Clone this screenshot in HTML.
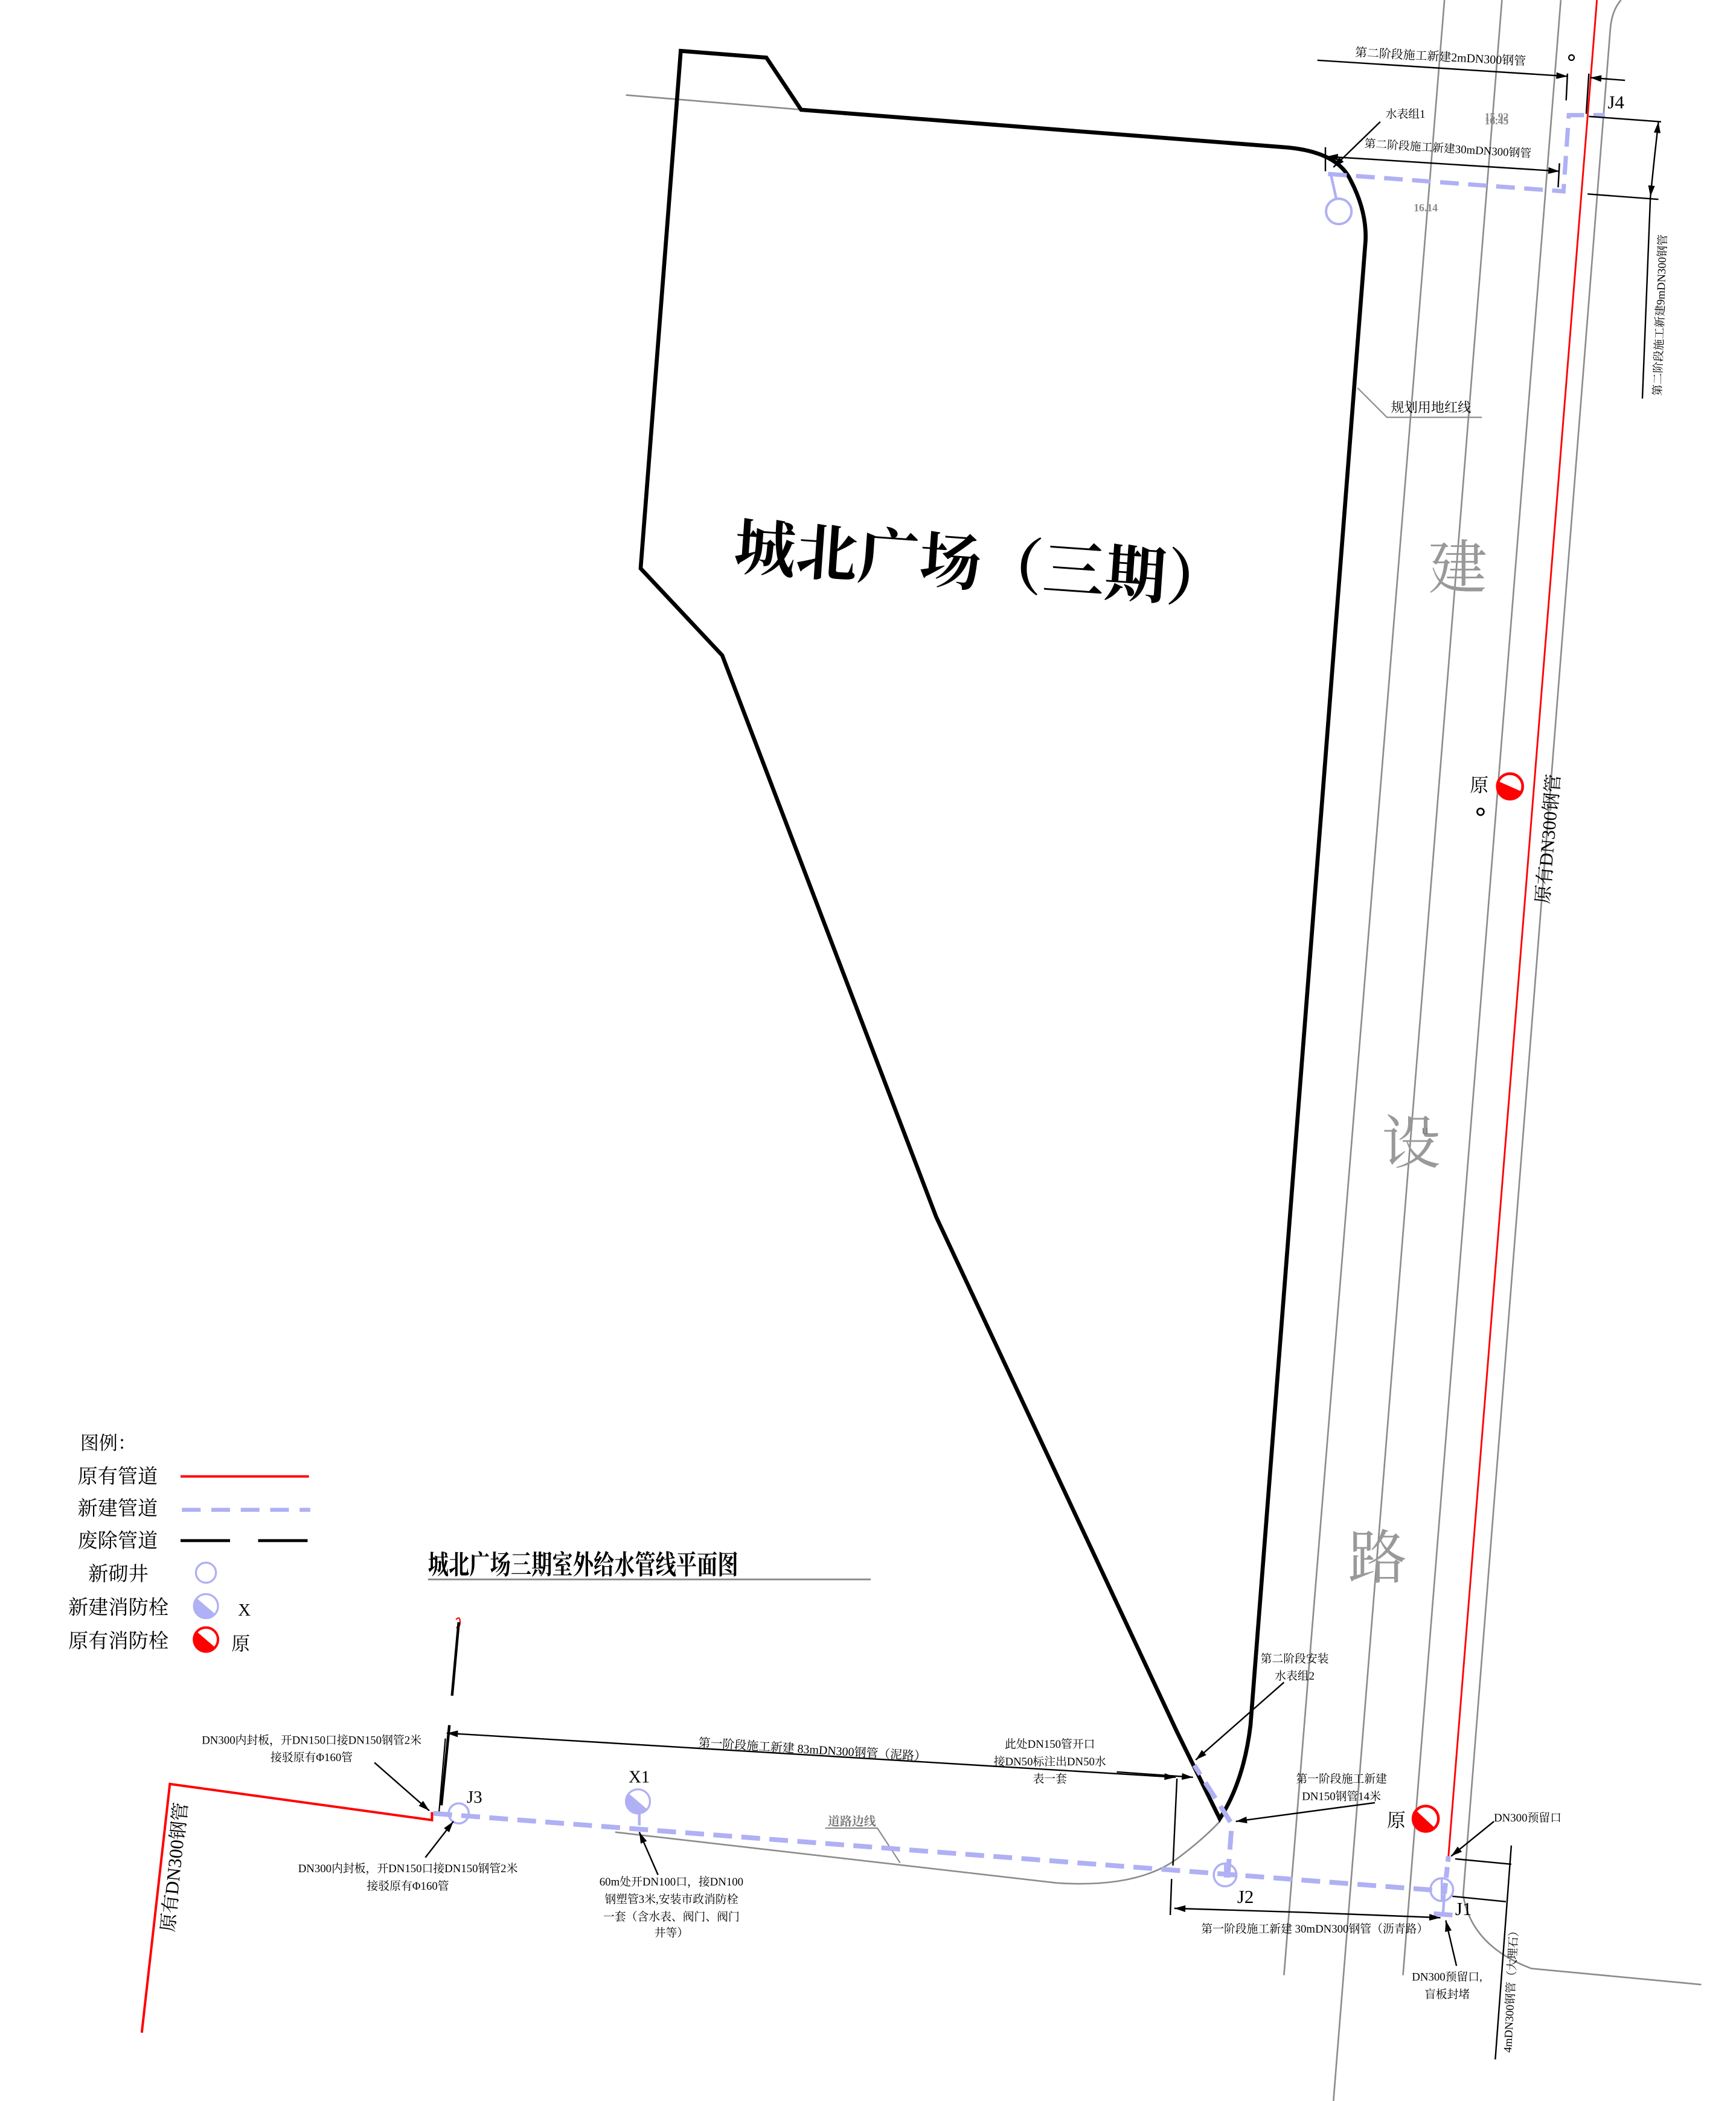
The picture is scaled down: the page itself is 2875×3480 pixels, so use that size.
<!DOCTYPE html>
<html><head><meta charset="utf-8"><style>
html,body{margin:0;padding:0;background:#fff;}
svg{display:block;}
text{font-family:"Liberation Serif","Noto Serif CJK SC",serif;fill:#000;}
.s{font-size:9px;}
.g{stroke:#8c8c8c;stroke-width:1.2;fill:none;}
.k{stroke:#000;stroke-width:1.1;fill:none;}
.b{stroke:#b0b0f4;stroke-width:3.6;fill:none;stroke-dasharray:14 7;}
</style></head><body>
<svg width="2875" height="3480" viewBox="0 0 1298 1571" xmlns="http://www.w3.org/2000/svg">
<defs>
<marker id="a" viewBox="0 0 10 6" refX="10" refY="3" markerWidth="10" markerHeight="5" markerUnits="userSpaceOnUse" orient="auto"><path d="M0,0 L10,3 L0,6 Z" fill="#000"/></marker>
</defs>
<rect width="1298" height="1571" fill="#fff"/>

<!-- road gray lines -->
<line class="g" x1="1080" y1="0" x2="960" y2="1477"/>
<line class="g" x1="1123" y1="0" x2="997" y2="1571"/>
<line class="g" x1="1167" y1="0" x2="1049" y2="1477"/>
<path class="g" d="M1212,0 Q1205,8 1204,22 L1094,1417 Q1100,1455 1145,1472 L1272,1484"/>
<line class="g" x1="468" y1="71" x2="600" y2="82"/>
<path class="g" d="M460,1370 L790,1408 Q850,1412 880,1390 Q900,1375 912,1362"/>
<polyline class="g" points="617,1367 656,1367 673,1393" style="stroke-width:1"/>
<polyline class="g" points="1015,290 1037,312 1108,312" style="stroke-width:1"/>

<!-- red existing pipe -->
<line x1="1194" y1="0" x2="1083" y2="1388" stroke="#f00" stroke-width="1.3"/>
<polyline points="106,1520 127,1334 323,1361 323,1355" stroke="#f00" stroke-width="1.8" fill="none"/>

<!-- plot boundary -->
<path d="M509,38 L573,43 L599,82 L960,110 Q1000,113 1010,135 Q1022,158 1021,180 L935,1290 Q930,1332 912,1360 L880,1295 L700,910 L540,490 L479,425 Z" stroke="#000" stroke-width="3" fill="none" stroke-linejoin="miter"/>

<!-- big labels -->
<text x="548" y="425" font-size="46" font-weight="bold" transform="rotate(4 548 425)" textLength="370">城北广场（三期）</text>
<text x="1068" y="440" font-size="44" fill="#999" style="fill:#999">建</text>
<text x="1033" y="870" font-size="44" style="fill:#999">设</text>
<text x="1063" y="848" font-size="10" style="fill:#777">u</text>
<text x="1008" y="1180" font-size="44" style="fill:#999">路</text>

<!-- top-right -->
<line class="k" x1="985" y1="45" x2="1172" y2="57" marker-end="url(#a)"/>
<line class="k" x1="1215" y1="60" x2="1189" y2="58" marker-end="url(#a)"/>
<line class="k" x1="1172" y1="55" x2="1171" y2="75"/>
<line class="k" x1="1188" y1="55" x2="1186" y2="85"/>
<text class="s" x="1013" y="42" transform="rotate(3 1013 42)" font-size="8.5">第二阶段施工新建2mDN300钢管</text>
<circle cx="1175" cy="43" r="2" fill="none" stroke="#000" stroke-width="1"/>
<text x="1202" y="81" font-size="14">J4</text>
<text x="1036" y="88" font-size="8.5">水表组1</text>
<line class="k" x1="1032" y1="91" x2="997" y2="125" marker-end="url(#a)"/>
<text x="1110" y="90" font-size="8" font-weight="bold" style="fill:#888">15.92</text>
<text x="1110" y="93" font-size="8" font-weight="bold" style="fill:#888">16.45</text>
<text x="1057" y="158" font-size="8" font-weight="bold" style="fill:#888">16.14</text>
<text x="1020" y="110" font-size="8.5" transform="rotate(3.5 1020 110)">第二阶段施工新建30mDN300钢管</text>
<line class="k" x1="1025" y1="119" x2="992" y2="117" marker-end="url(#a)"/>
<line class="k" x1="1025" y1="119" x2="1166" y2="128" marker-end="url(#a)"/>
<line class="k" x1="991" y1="110" x2="991" y2="128"/>
<line class="k" x1="1166" y1="122" x2="1165" y2="140"/>
<path class="b" d="M993,130 L1169,143 L1173,86 L1200,86" style="stroke-width:3.2"/>
<line x1="995" y1="130" x2="999" y2="148" stroke="#b0b0f4" stroke-width="2"/>
<circle cx="1001" cy="158" r="9.5" fill="#fff" stroke="#b0b0f4" stroke-width="1.8"/>
<line class="k" x1="1188" y1="87" x2="1242" y2="91"/>
<line class="k" x1="1187" y1="145" x2="1240" y2="149"/>
<line class="k" x1="1237" y1="118" x2="1240" y2="91" marker-end="url(#a)"/>
<line class="k" x1="1237" y1="118" x2="1234" y2="147" marker-end="url(#a)"/>
<line class="k" x1="1234" y1="147" x2="1228" y2="298"/>
<text x="1242" y="296" font-size="8.5" transform="rotate(-88 1242 296)">第二阶段施工新建9mDN300钢管</text>
<text x="1040" y="308" font-size="10">规划用地红线</text>

<!-- middle hydrant -->
<circle cx="1129" cy="588" r="9.5" fill="#fff" stroke="#f00" stroke-width="2"/>
<path d="M1120,584 A9.5,9.5 0 0 0 1138,592 Z" fill="#f00"/>
<text x="1099" y="592" font-size="14">原</text>
<circle cx="1107" cy="607" r="2.5" fill="none" stroke="#000" stroke-width="1.2"/>
<text x="1158" y="676" font-size="14" transform="rotate(-85 1158 676)">原有DN300钢管</text>

<!-- legend -->
<text x="60" y="1084" font-size="14">图例：</text>
<text x="58" y="1109" font-size="15">原有管道</text>
<line x1="135" y1="1104" x2="231" y2="1104" stroke="#f00" stroke-width="1.8"/>
<text x="58" y="1133" font-size="15">新建管道</text>
<line class="b" x1="136" y1="1129" x2="232" y2="1129" style="stroke-dasharray:14 8;stroke-width:3"/>
<text x="58" y="1157" font-size="15">废除管道</text>
<line x1="135" y1="1152" x2="172" y2="1152" stroke="#000" stroke-width="2.2"/>
<line x1="193" y1="1152" x2="230" y2="1152" stroke="#000" stroke-width="2.2"/>
<text x="66" y="1182" font-size="15">新砌井</text>
<circle cx="154" cy="1176" r="7.5" fill="none" stroke="#b0b0f4" stroke-width="1.5"/>
<text x="51" y="1207" font-size="15">新建消防栓</text>
<circle cx="154" cy="1201" r="9" fill="#fff" stroke="#b0b0f4" stroke-width="1.5"/>
<path d="M147,1195 A9,9 0 0 0 161,1207 Z" fill="#b0b0f4"/>
<text x="178" y="1208" font-size="13">X</text>
<text x="51" y="1232" font-size="15">原有消防栓</text>
<circle cx="154" cy="1226" r="9" fill="#fff" stroke="#f00" stroke-width="1.8"/>
<path d="M147,1220 A9,9 0 0 0 161,1232 Z" fill="#f00"/>
<text x="173" y="1234" font-size="14">原</text>

<!-- title -->
<text x="320" y="1177" font-size="20" font-weight="bold" textLength="232" lengthAdjust="spacingAndGlyphs">城北广场三期室外给水管线平面图</text>
<line x1="320" y1="1181" x2="651" y2="1181" stroke="#888" stroke-width="1.3"/>

<!-- abandoned pipe -->
<path d="M341,1211 q3,-3 3,2 q0,4 -3,4" stroke="#f00" stroke-width="1" fill="none"/>
<line x1="343" y1="1213" x2="338" y2="1268" stroke="#000" stroke-width="2"/>
<line x1="336" y1="1290" x2="330" y2="1350" stroke="#000" stroke-width="2"/>
<line x1="333" y1="1300" x2="328" y2="1358" stroke="#000" stroke-width="1"/>

<!-- new main pipe -->
<path class="b" d="M324,1356 L1080,1414"/>
<path class="b" d="M918,1404 L921,1364 L893,1320"/>
<path class="b" d="M1080,1416 L1083,1388" style="stroke-dasharray:8 4"/>
<line x1="1080" y1="1416" x2="1079" y2="1430" stroke="#b0b0f4" stroke-width="2"/>
<line x1="1072" y1="1431" x2="1086" y2="1432" stroke="#b0b0f4" stroke-width="3.5"/>
<circle cx="343" cy="1356" r="7.5" fill="none" stroke="#b0b0f4" stroke-width="1.6"/>
<circle cx="916" cy="1402" r="8.5" fill="none" stroke="#b0b0f4" stroke-width="1.6"/>
<circle cx="1078" cy="1413" r="8.5" fill="none" stroke="#b0b0f4" stroke-width="1.6"/>
<line x1="1078" y1="1405" x2="1078" y2="1422" stroke="#b0b0f4" stroke-width="1.6"/>
<line x1="916" y1="1394" x2="916" y2="1404" stroke="#b0b0f4" stroke-width="1.6"/>
<line x1="478" y1="1354" x2="478" y2="1365" stroke="#b0b0f4" stroke-width="2"/>
<circle cx="477" cy="1347" r="9" fill="#fff" stroke="#b0b0f4" stroke-width="1.5"/>
<path d="M470,1341 A9,9 0 0 0 484,1353 Z" fill="#b0b0f4"/>
<text x="470" y="1333" font-size="13">X1</text>
<text x="349" y="1348" font-size="13">J3</text>
<text x="925" y="1423" font-size="14">J2</text>
<text x="1088" y="1432" font-size="14">J1</text>

<!-- red hydrant bottom -->
<circle cx="1066" cy="1360" r="9.5" fill="#fff" stroke="#f00" stroke-width="2"/>
<path d="M1059,1354 A9.5,9.5 0 0 0 1073,1367 Z" fill="#f00"/>
<text x="1037" y="1366" font-size="14">原</text>

<!-- bottom dimensions / annotations -->
<line class="k" x1="600" y1="1312" x2="334" y2="1296" marker-end="url(#a)"/>
<line class="k" x1="600" y1="1312" x2="879" y2="1329" marker-end="url(#a)"/>
<text x="522" y="1306" font-size="9" transform="rotate(3.5 522 1306)">第一阶段施工新建 83mDN300钢管（泥路）</text>
<line class="k" x1="880" y1="1330" x2="877" y2="1395"/>
<line class="k" x1="876" y1="1405" x2="875" y2="1432"/>
<text x="785" y="1307" font-size="8.5" text-anchor="middle">此处DN150管开口</text>
<text x="785" y="1320" font-size="8.5" text-anchor="middle">接DN50标注出DN50水</text>
<text x="785" y="1333" font-size="8.5" text-anchor="middle">表一套</text>
<line class="k" x1="835" y1="1325" x2="892" y2="1329" marker-end="url(#a)"/>
<text x="968" y="1243" font-size="8.5" text-anchor="middle">第二阶段安装</text>
<text x="968" y="1256" font-size="8.5" text-anchor="middle">水表组2</text>
<line class="k" x1="960" y1="1258" x2="894" y2="1316" marker-end="url(#a)"/>
<text x="1003" y="1333" font-size="8.5" text-anchor="middle">第一阶段施工新建</text>
<text x="1003" y="1346" font-size="8.5" text-anchor="middle">DN150钢管14米</text>
<line class="k" x1="1028" y1="1348" x2="924" y2="1362" marker-end="url(#a)"/>
<text x="1117" y="1362" font-size="8.5">DN300预留口</text>
<line class="k" x1="1117" y1="1362" x2="1085" y2="1388" marker-end="url(#a)"/>
<line class="k" x1="1088" y1="1390" x2="1130" y2="1394"/>
<line class="k" x1="1086" y1="1418" x2="1126" y2="1422"/>
<line class="k" x1="1130" y1="1380" x2="1118" y2="1540"/>
<text x="1130" y="1535" font-size="8.5" transform="rotate(-87 1130 1535)">4mDN300钢管（大理石）</text>
<line class="k" x1="975" y1="1430" x2="878" y2="1427" marker-end="url(#a)"/>
<line class="k" x1="975" y1="1430" x2="1077" y2="1434" marker-end="url(#a)"/>
<text x="983" y="1445" font-size="8.5" text-anchor="middle">第一阶段施工新建 30mDN300钢管（沥青路）</text>
<text x="1082" y="1481" font-size="8.5" text-anchor="middle">DN300预留口,</text>
<text x="1082" y="1494" font-size="8.5" text-anchor="middle">盲板封堵</text>
<line class="k" x1="1089" y1="1470" x2="1081" y2="1436" marker-end="url(#a)"/>
<text x="233" y="1304" font-size="8.5" text-anchor="middle">DN300内封板，开DN150口接DN150钢管2米</text>
<text x="233" y="1317" font-size="8.5" text-anchor="middle">接驳原有Φ160管</text>
<line class="k" x1="280" y1="1318" x2="321" y2="1354" marker-end="url(#a)"/>
<text x="305" y="1400" font-size="8.5" text-anchor="middle">DN300内封板，开DN150口接DN150钢管2米</text>
<text x="305" y="1413" font-size="8.5" text-anchor="middle">接驳原有Φ160管</text>
<line class="k" x1="318" y1="1389" x2="339" y2="1362" marker-end="url(#a)"/>
<text x="502" y="1410" font-size="8.5" text-anchor="middle">60m处开DN100口，接DN100</text>
<text x="502" y="1423" font-size="8.5" text-anchor="middle">钢塑管3米,安装市政消防栓</text>
<text x="502" y="1436" font-size="8.5" text-anchor="middle">一套（含水表、阀门、阀门</text>
<text x="502" y="1448" font-size="8.5" text-anchor="middle">井等）</text>
<line class="k" x1="492" y1="1402" x2="478" y2="1370" marker-end="url(#a)"/>
<text x="619" y="1365" font-size="9" font-weight="bold" style="fill:#777">道路边线</text>
<text x="130" y="1445" font-size="14" transform="rotate(-84 130 1445)">原有DN300钢管</text>
</svg>
</body></html>
